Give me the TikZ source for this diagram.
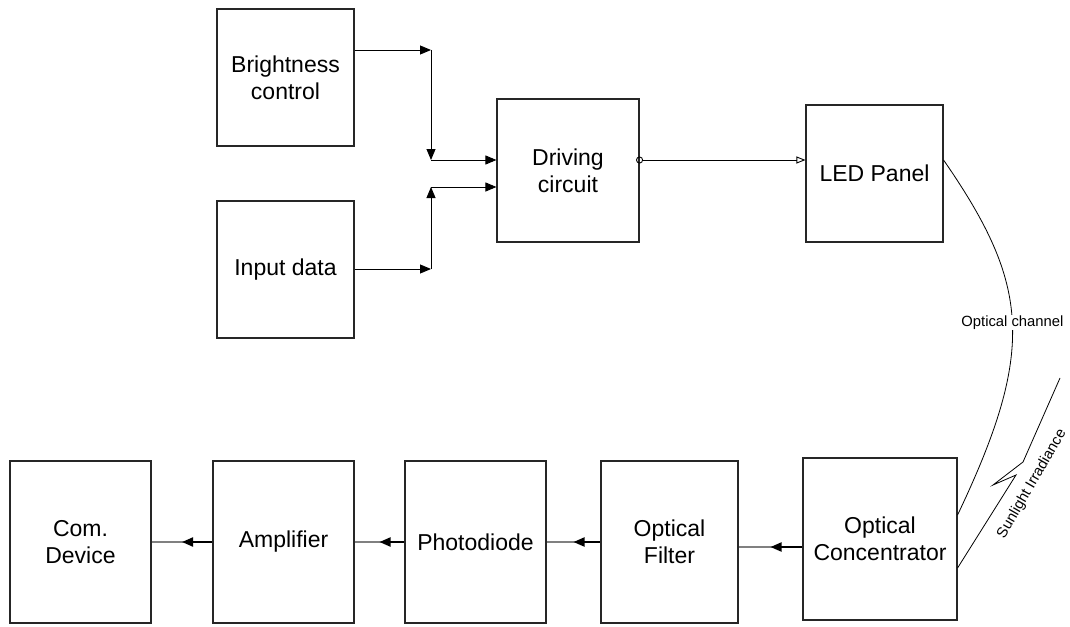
\documentclass[tikz,border=0pt]{standalone}
\usepackage{fontspec}
\setmainfont{Liberation Sans}
\usetikzlibrary{arrows.meta}
\usetikzlibrary{calc}

\begin{document}
\begin{tikzpicture}[x=1pt, y=-1pt,
        block/.style={draw=black!85, line width=1.1pt, fill=white, align=center,
            inner sep=0pt, font=\fontsize{23}{27}\selectfont},
        sq/.style={block, minimum width=137pt, minimum height=137pt},
        tall/.style={block, minimum width=141pt, minimum height=162pt},
        wire/.style={line width=0.9pt, -{Triangle[length=11pt, width=9pt]}},
        small/.style={font=\fontsize{14.8}{17}\selectfont, inner sep=1pt}]
            \useasboundingbox (0,0) rectangle (1070,626);

            % transmitter
            \node[sq] (bright) at (285.5,77.5) {Brightness\\control};
            \node[sq] (input) at (285.5,269.5) {Input data};
            \node[block, minimum width=142pt, minimum height=143pt]
                (drive) at (568,170.5) {Driving\\circuit};
            \node[sq] (led) at (874.5,173.5) {LED Panel};

            % receiver
            \node[tall] (comdev) at (80.5,542) {Com.\\Device};
            \node[tall] (amp) at (283.5,542) {Amplifier};
            \node[tall] (photo) at (475.5,542) {Photodiode};
            \node[tall, minimum width=137pt] (filter) at (669.5,542) {Optical\\Filter};
            \node[block, minimum width=154pt, minimum height=162pt]
                (conc) at (880,539) {Optical\\Concentrator};

            % inputs of the driving circuit
            \coordinate (b1) at (431,50);
            \coordinate (b2) at (431,160);
            \coordinate (i1) at (431,269);
            \coordinate (i2) at (431,187);
            \draw[wire] (b1 -| bright.east) -- (b1);
            \draw[wire] (b1) -- (b2);
            \draw[wire] (b2) -- (b2 -| drive.west);
            \draw[wire] (i1 -| input.east) -- (i1);
            \draw[wire] (i1) -- (i2);
            \draw[wire] (i2) -- (i2 -| drive.west);

            % driving circuit to LED panel
            \draw[line width=0.9pt, shorten <=-3.5pt,
                {Circle[open, length=7pt, width=7pt]}-{Triangle[open, length=9pt, width=7pt]}]
                (b2 -| drive.east) -- (b2 -| led.west);

            % optical channel
            \draw[line width=0.8pt] (b2 -| led.east)
                .. controls (1030,285) and (1036,350) .. ([yshift=24pt]conc.east)
                node[small, pos=0.5, fill=white] (chan) {Optical channel};

            % sunlight
            \draw[line width=0.8pt] (1060,378) -- (1023,462) -- (993,485) -- (1016,475)
                -- ([yshift=-29pt]conc.east);
            \node[small, rotate=60] (sun) at (1032,484) {Sunlight Irradiance};

            % receiver chain
            \coordinate (c1) at ([yshift=-8pt]conc.west);
            \draw[gray, line width=1.2pt] (c1) -- (c1 -| filter.east);
            \draw[line width=2pt, -{Triangle[length=11pt, width=9pt]}]
                (c1) -- ($(c1)!0.5!(c1 -| filter.east)$);
            \foreach \a/\b in {filter/photo, photo/amp, amp/comdev} {
                \draw[gray, line width=1.2pt] (\a.west) -- (\b.east);
                \draw[line width=2pt, -{Triangle[length=11pt, width=9pt]}]
                    (\a.west) -- ($(\a.west)!0.5!(\b.east)$);
            }
        \end{tikzpicture}
\end{document}
